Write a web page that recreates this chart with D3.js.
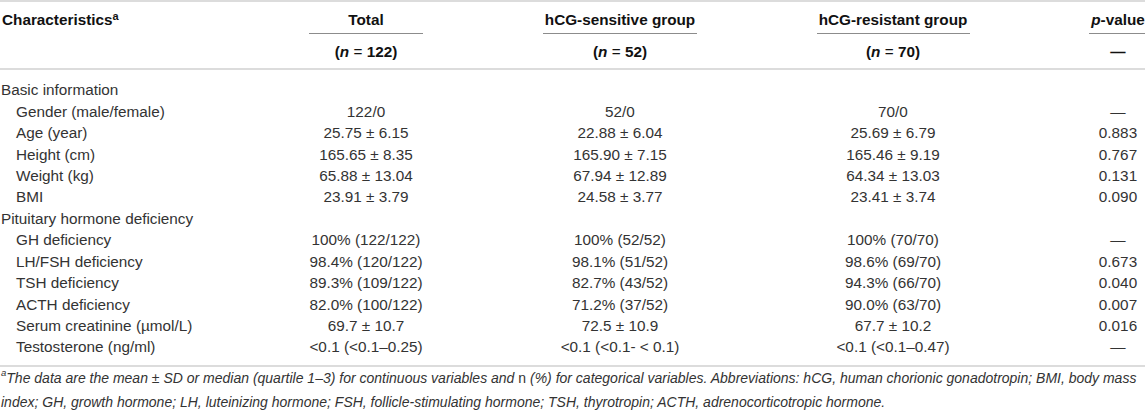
<!DOCTYPE html>
<html>
<head>
<meta charset="utf-8">
<script src="https://cdn.jsdelivr.net/npm/d3@7"></script>
<style>
  body { margin: 0; background: #fff; }
  svg text { font-family: "Liberation Sans", Arial, Helvetica, sans-serif; }
</style>
</head>
<body>
<div id="table"></div>
<script>
// table content
const characteristics = ["Basic information", "Gender (male/female)", "Age (year)", "Height (cm)", "Weight (kg)", "BMI",
  "Pituitary hormone deficiency", "GH deficiency", "LH/FSH deficiency", "TSH deficiency", "ACTH deficiency",
  "Serum creatinine (\u00b5mol/L)", "Testosterone (ng/ml)"];
const isSection = [true, false, false, false, false, false, true, false, false, false, false, false, false];
const totalValues = ["", "122/0", "25.75 \u00b1 6.15", "165.65 \u00b1 8.35", "65.88 \u00b1 13.04", "23.91 \u00b1 3.79",
  "", "100% (122/122)", "98.4% (120/122)", "89.3% (109/122)", "82.0% (100/122)", "69.7 \u00b1 10.7", "<0.1 (<0.1\u20130.25)"];
const sensitiveValues = ["", "52/0", "22.88 \u00b1 6.04", "165.90 \u00b1 7.15", "67.94 \u00b1 12.89", "24.58 \u00b1 3.77",
  "", "100% (52/52)", "98.1% (51/52)", "82.7% (43/52)", "71.2% (37/52)", "72.5 \u00b1 10.9", "<0.1 (<0.1- < 0.1)"];
const resistantValues = ["", "70/0", "25.69 \u00b1 6.79", "165.46 \u00b1 9.19", "64.34 \u00b1 13.03", "23.41 \u00b1 3.74",
  "", "100% (70/70)", "98.6% (69/70)", "94.3% (66/70)", "90.0% (63/70)", "67.7 \u00b1 10.2", "<0.1 (<0.1\u20130.47)"];
const pValues = ["", "\u2014", "0.883", "0.767", "0.131", "0.090",
  "", "\u2014", "0.673", "0.040", "0.007", "0.016", "\u2014"];
const groupNames = ["Total", "hCG-sensitive group", "hCG-resistant group"];
const groupN = ["122", "52", "70"];

const width = 1145, height = 411;
const fontSize = 15.3;
const noteSize = 14;

let svg = d3.select("#table").append("svg")
  .attr("width", width)
  .attr("height", height);

// column layout: centre and underline span
const columns = [
  { cx: 366, x0: 309, x1: 423 },
  { cx: 620, x0: 543, x1: 697 },
  { cx: 893, x0: 817, x1: 970 },
  { cx: 1118, x0: 1089, x1: 1145 }
];

// row positions
let y = d3.scaleLinear()
  .domain([0, characteristics.length - 1])
  .range([90, 347]);

// horizontal rules
svg.selectAll("line.rule").data([1, 69, 366]).enter()
  .append("line")
  .attr("class", "rule")
  .attr("x1", 0).attr("x2", width)
  .attr("y1", d => d).attr("y2", d => d)
  .attr("stroke", "#d0d0d0")
  .attr("stroke-width", 1.6);

// header underlines
svg.selectAll("line.under").data(columns).enter()
  .append("line")
  .attr("class", "under")
  .attr("x1", d => d.x0).attr("x2", d => d.x1)
  .attr("y1", 33.5).attr("y2", 33.5)
  .attr("stroke", "#8c8c8c")
  .attr("stroke-width", 1.2);

// header text
let head = svg.append("text")
  .attr("x", 2).attr("y", 20).attr("dy", "0.35em")
  .attr("font-size", fontSize).attr("font-weight", "bold").attr("fill", "#111");
head.append("tspan").text("Characteristics");
head.append("tspan").attr("font-size", 11).attr("dy", "-0.5em").text("a");

groupNames.forEach(function (g, i) {
  svg.append("text")
    .attr("x", columns[i].cx).attr("y", 20).attr("dy", "0.35em")
    .attr("text-anchor", "middle")
    .attr("font-size", fontSize).attr("font-weight", "bold").attr("fill", "#111")
    .text(g);

  let sub = svg.append("text")
    .attr("x", columns[i].cx).attr("y", 52).attr("dy", "0.35em")
    .attr("text-anchor", "middle")
    .attr("font-size", fontSize).attr("font-weight", "bold").attr("fill", "#111");
  sub.append("tspan").text("(");
  sub.append("tspan").attr("font-style", "italic").text("n");
  sub.append("tspan").attr("font-weight", "normal").text(" = ");
  sub.append("tspan").text(groupN[i] + ")");
});

let pHead = svg.append("text")
  .attr("x", columns[3].cx).attr("y", 20).attr("dy", "0.35em")
  .attr("text-anchor", "middle")
  .attr("font-size", fontSize).attr("font-weight", "bold").attr("fill", "#111");
pHead.append("tspan").attr("font-style", "italic").text("p");
pHead.append("tspan").text("-value");

svg.append("text")
  .attr("x", columns[3].cx).attr("y", 52).attr("dy", "0.35em")
  .attr("text-anchor", "middle")
  .attr("font-size", fontSize).attr("font-weight", "bold").attr("fill", "#111")
  .text("\u2014");

// body rows
let rows = svg.append("g").selectAll("g").data(characteristics).enter()
  .append("g")
  .attr("transform", (d, i) => `translate(0, ${y(i)})`);

rows.append("text")
  .attr("x", (d, i) => isSection[i] ? 1 : 16)
  .attr("dy", "0.35em")
  .attr("font-size", fontSize)
  .attr("fill", "#333")
  .text(d => d);

[totalValues, sensitiveValues, resistantValues, pValues].forEach(function (vals, c) {
  rows.append("text")
    .attr("x", columns[c].cx)
    .attr("dy", "0.35em")
    .attr("text-anchor", "middle")
    .attr("font-size", fontSize)
    .attr("fill", "#333")
    .text((d, i) => vals[i]);
});

// footnote
let note1 = svg.append("text")
  .attr("x", 1).attr("y", 381).attr("dy", "0.35em")
  .attr("font-size", noteSize).attr("font-style", "italic").attr("fill", "#333");
note1.append("tspan").attr("font-size", 9.5).attr("dy", "-0.5em").text("a");
note1.append("tspan").attr("dy", "0.5em").text("The data are the mean \u00b1 SD or median (quartile 1\u20133) for continuous variables and ");
note1.append("tspan").attr("font-style", "normal").text("n");
note1.append("tspan").text(" (%) for categorical variables. Abbreviations: hCG, human chorionic gonadotropin; BMI, body mass");

svg.append("text")
  .attr("x", 1).attr("y", 402).attr("dy", "0.35em")
  .attr("font-size", noteSize).attr("font-style", "italic").attr("fill", "#333")
  .text("index; GH, growth hormone; LH, luteinizing hormone; FSH, follicle-stimulating hormone; TSH, thyrotropin; ACTH, adrenocorticotropic hormone.");
</script>
</body>
</html>
